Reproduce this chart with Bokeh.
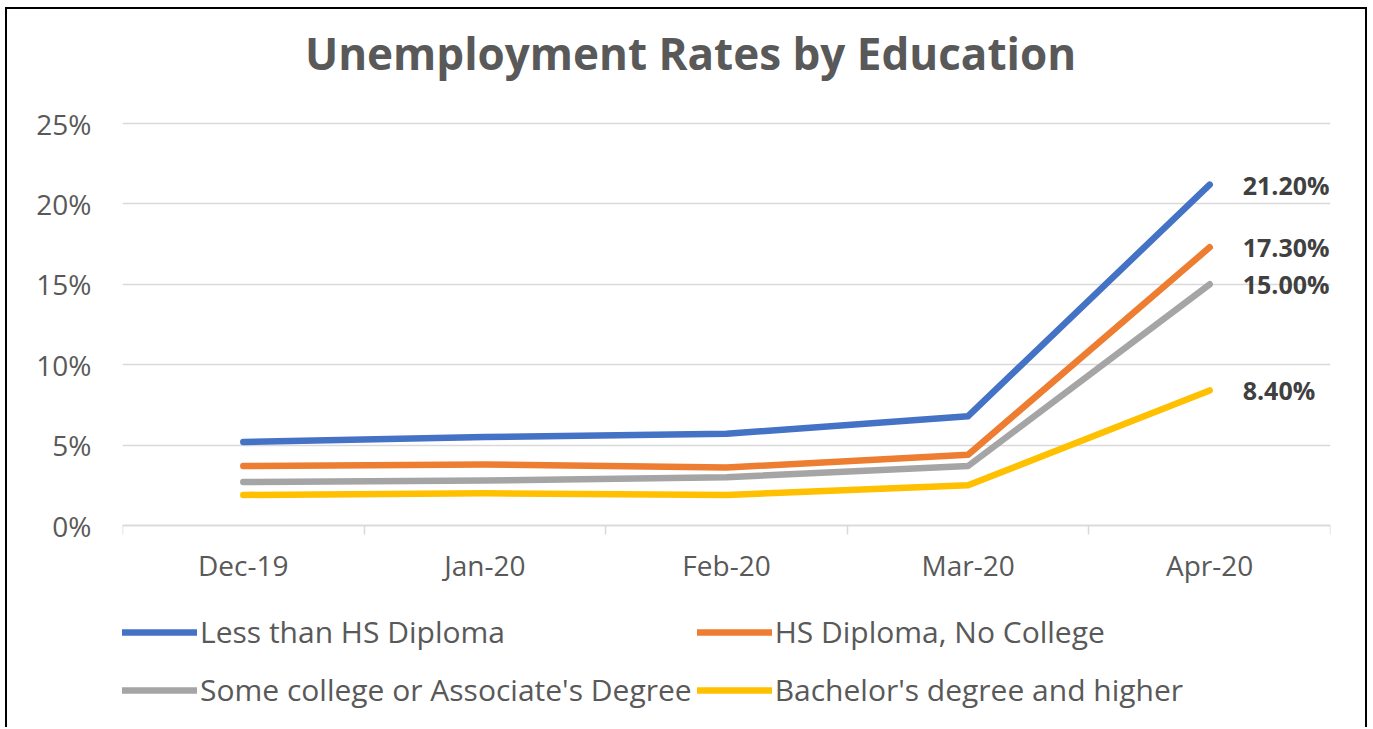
from bokeh.plotting import figure
from bokeh.models import (FixedTicker, Legend, LegendItem, ColumnDataSource, Range1d, Label)
from bokeh.core.properties import value
from bokeh.embed import file_html
from bokeh.resources import INLINE

months = ["Dec-19", "Jan-20", "Feb-20", "Mar-20", "Apr-20"]
less_hs = [5.2, 5.5, 5.7, 6.8, 21.2]
hs_no_college = [3.7, 3.8, 3.6, 4.4, 17.3]
some_college = [2.7, 2.8, 3.0, 3.7, 15.0]
bachelors = [1.9, 2.0, 1.9, 2.5, 8.4]
series_names = ["Less than HS Diploma", "HS Diploma, No College",
                "Some college or Associate's Degree", "Bachelor's degree and higher"]
series_colors = ["#4472C4", "#ED7D31", "#A5A5A5", "#FFC000"]
y_ticks = [0, 5, 10, 15, 20, 25]
y_tick_labels = ["0%", "5%", "10%", "15%", "20%", "25%"]
end_labels = ["21.20%", "17.30%", "15.00%", "8.40%"]
title_text = "Unemployment Rates by Education"

FONT = "Open Sans"
TXT = "#595959"

# frame covers the whole canvas height: 0..25 spans 402px,
# 114px above (title) and 204px below (x labels + legend)
Y_TOP = 25
PX_PER_UNIT = 402 / Y_TOP
RANGE_TOP = Y_TOP + 114 / PX_PER_UNIT
RANGE_BOTTOM = -204 / PX_PER_UNIT

p = figure(width=1362, height=720, output_backend="svg", toolbar_location=None,
           title=None,
           x_range=Range1d(0, 5), y_range=Range1d(RANGE_BOTTOM, RANGE_TOP),
           min_border_left=115, min_border_right=39, min_border_top=0,
           min_border_bottom=0)
p.styles = {"border-left": "2px solid black", "border-top": "2px solid black",
            "border-right": "2px solid black", "margin-left": "5px", "margin-top": "7px"}
p.outline_line_color = None
p.background_fill_color = "white"
p.border_fill_color = "white"

p.add_layout(Label(x=2.5, y=Y_TOP + 71 / PX_PER_UNIT, x_offset=-36, text=title_text,
                   text_align="center", text_baseline="middle", text_font=FONT,
                   text_font_style="bold", text_font_size="44px", text_color=TXT))

xpos = [i + 0.5 for i in range(len(months))]
all_series = [less_hs, hs_no_college, some_college, bachelors]
renderers = []
for name, col, vals in zip(series_names, series_colors, all_series):
    src = ColumnDataSource(dict(x=xpos, y=vals))
    r = p.line("x", "y", source=src, line_color=col, line_width=6.5,
               line_cap="round", line_join="round")
    renderers.append(r)

# end labels
lab_src = ColumnDataSource(dict(x=[xpos[-1]] * 4, y=[s[-1] for s in all_series], t=end_labels))
p.text("x", "y", text="t", source=lab_src, x_offset=33, text_baseline="middle",
       text_align="left", text_font=value(FONT), text_font_style="bold",
       text_font_size="25px", text_color="#404040")

# y axis
p.yaxis.ticker = FixedTicker(ticks=y_ticks)
p.yaxis.major_label_overrides = {t: l for t, l in zip(y_ticks, y_tick_labels)}
p.yaxis.axis_line_color = None
p.yaxis.major_tick_line_color = None
p.yaxis.minor_tick_line_color = None
p.yaxis.major_label_text_font = FONT
p.yaxis.major_label_text_font_size = "28px"
p.yaxis.major_label_text_color = TXT
p.yaxis.major_label_standoff = 25

p.ygrid.grid_line_color = "#D9D9D9"
p.ygrid.grid_line_width = 1.5
p.xgrid.grid_line_color = None

# x axis, drawn at y = 0
p.xaxis.fixed_location = 0
p.xaxis.ticker = FixedTicker(ticks=xpos, minor_ticks=list(range(len(months) + 1)))
p.xaxis.major_label_overrides = {x: m for x, m in zip(xpos, months)}
p.xaxis.axis_line_color = "#D9D9D9"
p.xaxis.axis_line_width = 1.5
p.xaxis.major_tick_line_color = None
p.xaxis.minor_tick_line_color = "#D9D9D9"
p.xaxis.minor_tick_line_width = 1.5
p.xaxis.minor_tick_out = 9
p.xaxis.minor_tick_in = 0
p.xaxis.major_label_text_font = FONT
p.xaxis.major_label_text_font_size = "28px"
p.xaxis.major_label_text_color = TXT
p.xaxis.major_label_standoff = 11

# legend: 2 columns, filled column by column -> reorder for row-wise reading
order = [0, 2, 1, 3]
items = [LegendItem(label=series_names[i], renderers=[renderers[i]]) for i in order]
legend = Legend(items=items, ncols=2, location=(0, 13),
                glyph_width=75, glyph_height=20, label_standoff=3,
                label_height=53, spacing=5, padding=0, margin=0,
                label_text_font=FONT, label_text_font_size="30px",
                label_text_color=TXT, border_line_color=None,
                background_fill_alpha=0)
p.add_layout(legend, "center")

open("out.html", "w").write(file_html(p, INLINE))
